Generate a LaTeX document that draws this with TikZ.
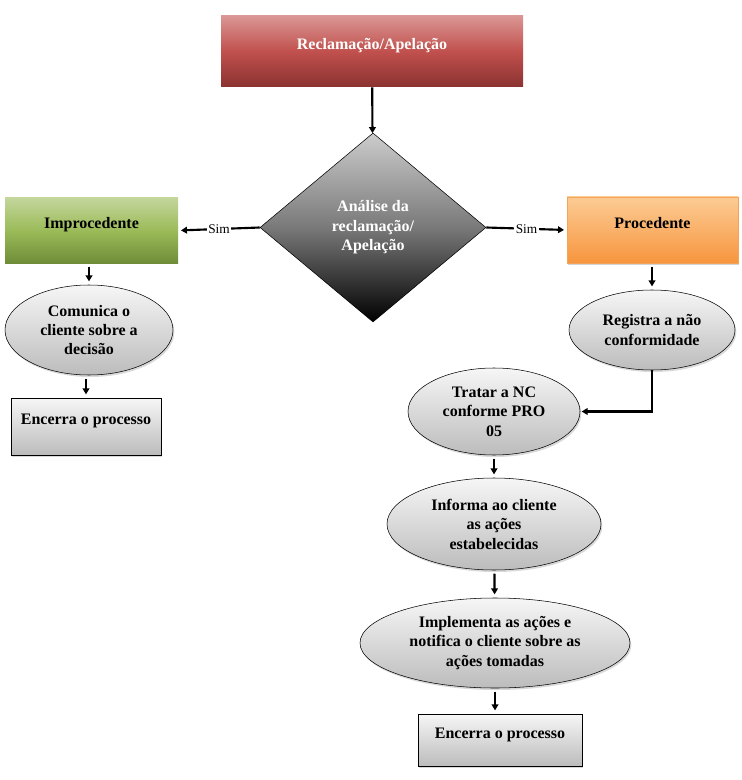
\documentclass[tikz,border=0pt]{standalone}
\usepackage{fontspec}
\setmainfont{Liberation Serif}
\usetikzlibrary{arrows.meta,positioning,shapes.geometric,shadows}

\definecolor{redtop}{HTML}{DA9694}
\definecolor{redmid}{HTML}{C0504D}
\definecolor{redbot}{HTML}{8B3331}
\definecolor{greentop}{HTML}{C3D69B}
\definecolor{greenmid}{HTML}{9BBB59}
\definecolor{greenbot}{HTML}{6F8D38}
\definecolor{orangetop}{HTML}{FCCC94}
\definecolor{orangebot}{HTML}{F7953E}
\definecolor{orangeline}{HTML}{F3A35A}
\definecolor{graytop}{HTML}{F6F6F6}
\definecolor{graybot}{HTML}{BCBCBC}

\begin{document}
\begin{tikzpicture}[
  x=0.75pt, y=-0.75pt,
  >={Triangle[length=4.5pt, width=5pt]},
  lbl/.style={font=\bfseries\fontsize{12}{14.6}\selectfont, align=center},
  box/.style={lbl, rectangle, inner sep=0pt, text height=9pt, text depth=11.5pt},
  startbox/.style={box, text=white, top color=redtop, bottom color=redbot, middle color=redmid},
  nobox/.style={box, top color=greentop, bottom color=greenbot, middle color=greenmid},
  yesbox/.style={box, draw=orangeline, top color=orangetop, bottom color=orangebot,
    drop shadow={opacity=0.35, shadow xshift=1pt, shadow yshift=-1.5pt}},
  endbox/.style={box, draw, thin, top color=graytop, bottom color=graybot,
    drop shadow={opacity=0.3, shadow xshift=1pt, shadow yshift=-1.5pt}},
  stepell/.style={lbl, ellipse, draw, thin, inner sep=0pt, top color=graytop, bottom color=graybot,
    drop shadow={opacity=0.3, shadow xshift=1pt, shadow yshift=-1.5pt}},
  decision/.style={lbl, diamond, draw, thin, inner sep=0pt, text=white,
    top color=gray!40, bottom color=black, middle color=gray!95!black},
  arr/.style={->, line width=1.6pt, shorten <=2.5pt, shorten >=2.5pt},
  simlbl/.style={fill=white, inner sep=1pt, font=\fontsize{10}{12}\selectfont},
]
\useasboundingbox (0,0) rectangle (741,780);

% Start
\node[startbox, minimum width=226.5pt, minimum height=53.25pt] (recl) at (372,51.5) {Reclamação/Apelação};

% Decision
\node[decision, minimum width=169.5pt, minimum height=141.75pt] (analise) at (373,227.5)
  {Análise da\\reclamação/\\Apelação};

% Left branch
\node[nobox, minimum width=129.75pt, minimum height=48.75pt] (improc) at (91.5,230.5) {Improcedente};
\node[stepell, minimum width=126pt, minimum height=67.5pt] (comunica) at (89,330)
  {Comunica o\\cliente sobre a\\decisão};
\node[endbox, minimum width=112.5pt, minimum height=42.75pt] (encerraA) at (86,426.5) {Encerra o processo};

% Right branch
\node[yesbox, minimum width=128.25pt, minimum height=49.5pt] (proced) at (652.5,230) {Procedente};
\node[stepell, minimum width=124.5pt, minimum height=60pt] (registra) at (652,330)
  {Registra a não\\conformidade};
\node[stepell, minimum width=129pt, minimum height=65.25pt] (tratar) at (494,411.5)
  {Tratar a NC\\conforme PRO\\05};
\node[stepell, minimum width=160.5pt, minimum height=69pt] (informa) at (494,524)
  {Informa ao cliente\\as ações\\estabelecidas};
\node[stepell, minimum width=202.5pt, minimum height=67.5pt] (implementa) at (495,643)
  {Implementa as ações e\\notifica o cliente sobre as\\ações tomadas};
\node[endbox, minimum width=123pt, minimum height=39pt] (encerraB) at (500,740) {Encerra o processo};

% Arrows
\draw[arr, shorten <=0pt, shorten >=0pt] (recl) -- (analise);
\draw[arr, shorten <=0pt, shorten >=2pt] (analise.west) -- node[simlbl] {Sim} (improc.east);
\draw[arr, shorten <=0pt, shorten >=2pt] (analise.east) -- node[simlbl] {Sim} (proced.west);
\draw[arr] (improc.south -| comunica.north) -- (comunica.north);
\draw[arr] (comunica.south -| encerraA.north) -- (encerraA.north);
\draw[arr] (proced.south -| registra.north) -- (registra.north);
\draw[arr, shorten <=0pt, shorten >=1pt] (registra.south) |- (tratar.east);
\draw[arr] (tratar) -- (informa);
\draw[arr] (informa) -- (implementa);
\draw[arr] (implementa.south) -- (implementa.south |- encerraB.north);
\end{tikzpicture}
\end{document}
